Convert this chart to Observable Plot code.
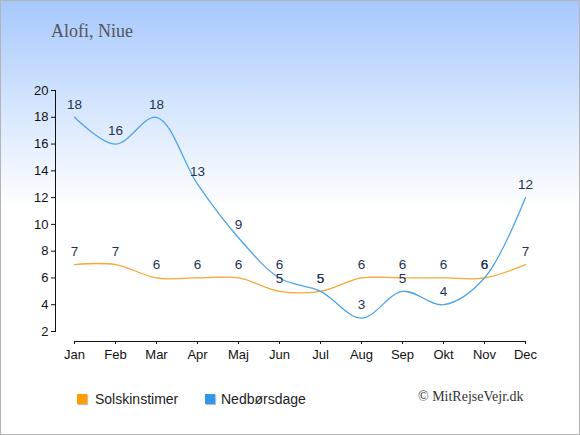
<!DOCTYPE html>
<html>
<head>
<meta charset="utf-8">
<script src="https://cdn.jsdelivr.net/npm/d3@7"></script>
<script src="https://cdn.jsdelivr.net/npm/@observablehq/plot@0.6"></script>
<style>
  html, body { margin: 0; padding: 0; }
  #wrap {
    position: relative; width: 580px; height: 435px; overflow: hidden;
    background: linear-gradient(to bottom, #a6c8fd 0px, #dbe9fe 120px, #ffffff 210px, #ffffff 435px);
    box-shadow: inset 0 0 0 1px #b4b4b4;
    font-family: "Liberation Sans", Arial, sans-serif;
  }
  #chart { position: absolute; left: 0; top: 0; }
  #chart svg { background: transparent; overflow: visible; }
  #title {
    position: absolute; left: 51px; top: 22px; line-height: 18px;
    font-family: "Liberation Serif", "Times New Roman", serif; font-size: 18px; color: #555;
  }
  .leg { position: absolute; top: 390px; font-size: 14px; line-height: 18px; color: #222; }
  .sw { position: absolute; width: 10px; height: 10px; top: 4px; box-shadow: 1px 1px 1px rgba(0,0,0,0.25); }
  #copy {
    position: absolute; left: 418px; top: 389px; line-height: 16px;
    font-family: "Liberation Serif", "Times New Roman", serif; font-size: 14px; color: #333;
  }
</style>
</head>
<body>
<div id="wrap">
  <div id="chart"></div>
  <div id="title">Alofi, Niue</div>
  <div class="leg" style="left:77px"><span class="sw" style="left:0;background:#ff9c00"></span><span style="position:absolute;left:18px;white-space:nowrap">Solskinstimer</span></div>
  <div class="leg" style="left:205px"><span class="sw" style="left:0;background:#3297ea"></span><span style="position:absolute;left:16px;white-space:nowrap">Nedbørsdage</span></div>
  <div id="copy">© MitRejseVejr.dk</div>
</div>
<script>
const months = ["Jan","Feb","Mar","Apr","Maj","Jun","Jul","Aug","Sep","Okt","Nov","Dec"];
const sunHours = [7,7,6,6,6,5,5,6,6,6,6,7];
const rainDays = [18,16,18,13,9,6,5,3,5,4,6,12];
const yTicks = [2,4,6,8,10,12,14,16,18,20];

const data = months.map((m, i) => ({month: m, sun: sunHours[i], rain: rainDays[i]}));

const labelColor = "#253353";
const chart = Plot.plot({
  width: 580,
  height: 370,
  marginLeft: 55,
  marginRight: 36,
  marginTop: 90,
  marginBottom: 29,
  style: {fontFamily: "'Liberation Sans', Arial, sans-serif", fontSize: "13px", background: "transparent", color: "#111"},
  x: {type: "point", domain: months, range: [74, 525], padding: 0, label: null},
  y: {domain: [2, 20], range: [331, 90], label: null},
  marks: [
    Plot.frame({anchor: "left", insetBottom: 10, stroke: "#111"}),
    Plot.frame({anchor: "bottom", insetLeft: 19, insetRight: 19, stroke: "#111"}),
    Plot.axisY({ticks: yTicks, tickSize: 4, tickPadding: 3, fontSize: 13, stroke: "#111", fill: "#111", label: null}),
    Plot.axisX({tickSize: 3, tickPadding: 5, fontSize: 13, stroke: "#111", fill: "#111", label: null}),
    Plot.line(data, {x: "month", y: "sun", curve: "catmull-rom", stroke: "#f8a635", strokeWidth: 1.3}),
    Plot.line(data, {x: "month", y: "rain", curve: "catmull-rom", stroke: "#4ea4ea", strokeWidth: 1.3}),
    Plot.text(data, {x: "month", y: "sun", text: "sun", dy: -13, fill: labelColor, fontSize: 13.5}),
    Plot.text(data, {x: "month", y: "rain", text: "rain", dy: -13, fill: labelColor, fontSize: 13.5})
  ]
});
document.getElementById("chart").appendChild(chart);
</script>
</body>
</html>
